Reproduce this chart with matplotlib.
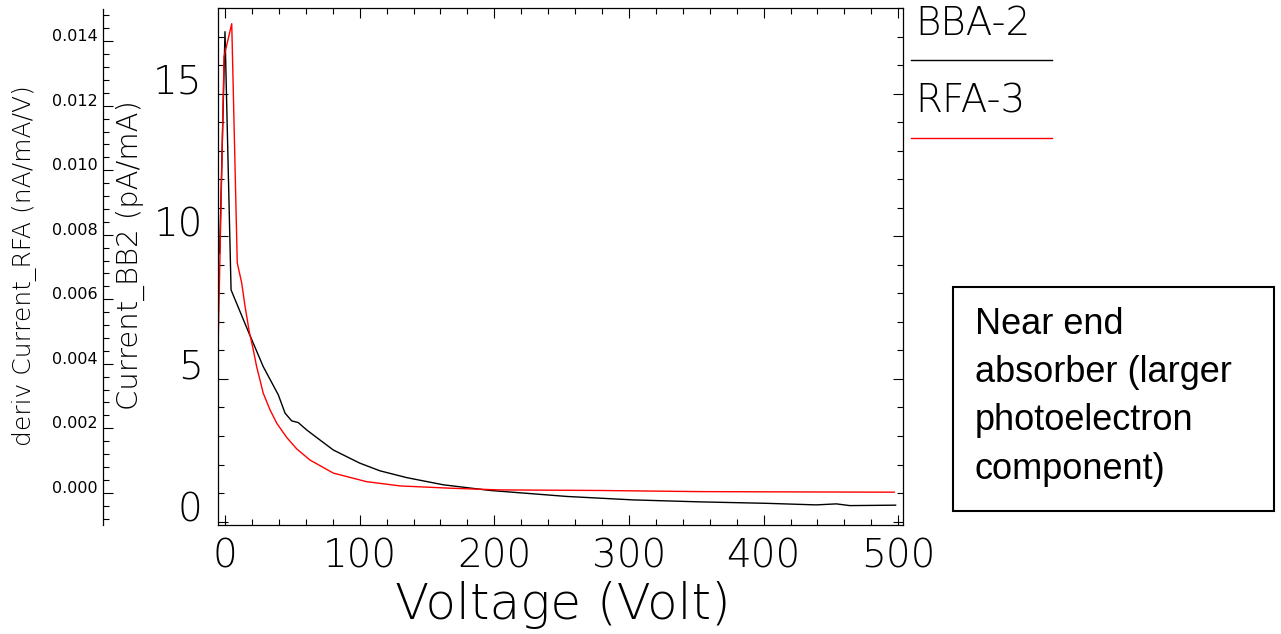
import numpy as np
import matplotlib.pyplot as plt
import matplotlib.font_manager as fm
from matplotlib.lines import Line2D
from matplotlib.patches import Rectangle
from matplotlib.ticker import MultipleLocator, FormatStrFormatter

# values
bb_v = [-4, 0, 4.5, 17.3, 28.4, 39.6, 44.6, 49.5, 54.4, 60.7, 70.5, 80.4, 100, 115,
        135, 162, 197, 254, 303, 353, 402, 439, 454, 464, 498]
bb_i = [9.4, 17.17, 8.12, 6.66, 5.43, 4.44, 3.8, 3.53, 3.47, 3.21, 2.86, 2.51, 2.05, 1.78,
        1.54, 1.29, 1.09, 0.88, 0.76, 0.69, 0.64, 0.585, 0.62, 0.56, 0.575]
rd_v = [-5, -0.7, 5, 9.1, 12.4, 14.9, 18, 21, 23.5, 28.4, 33.4, 38.4, 45.8, 53.2, 63,
        80.4, 105, 130, 167, 204, 278, 353, 420, 497]
rd_i = [6.4, 16.3, 17.45, 9.07, 8.36, 7.54, 6.66, 6.02, 5.43, 4.5, 3.92, 3.45, 2.95, 2.55, 2.16,
        1.7, 1.4, 1.25, 1.17, 1.11, 1.09, 1.05, 1.04, 1.03]
legend_names = ['BBA-2', 'RFA-3']
legend_colors = ['black', 'red']
note = 'Near end\nabsorber (larger\nphotoelectron\ncomponent)'

# thin font to look like the IDL vector font
thin, tw = 'Lato', 300
for f in fm.fontManager.ttflist:
    if f.name == 'DejaVu Sans' and isinstance(f.weight, int) and f.weight <= 300:
        thin, tw = 'DejaVu Sans', f.weight
plt.rcParams['font.family'] = [thin, 'DejaVu Sans']
plt.rcParams['font.weight'] = tw

W, H = 1281, 634
fig = plt.figure(figsize=(W / 100, H / 100), dpi=100)


def fx(x):
    return x / W


def fy(y):
    return 1 - y / H


ax = fig.add_axes([fx(218), fy(525), fx(903) - fx(218), fy(8) - fy(525)])
ax.plot(bb_v, bb_i, color='black', lw=1.0)
ax.plot(rd_v, rd_i, color='red', lw=1.0)
ax.set_xlim(-5.2, 503.5)
ax.set_ylim(-0.12, 18.0)
ax.xaxis.set_major_locator(MultipleLocator(100))
ax.xaxis.set_minor_locator(MultipleLocator(20))
ax.yaxis.set_major_locator(MultipleLocator(5))
ax.yaxis.set_minor_locator(MultipleLocator(1))
ax.tick_params(which='both', direction='in', top=True, right=True, width=0.8)
ax.tick_params(which='major', length=7.5)
ax.tick_params(which='minor', length=4.5)
ax.tick_params(axis='x', pad=9, labelsize=28)
ax.tick_params(axis='y', pad=11, labelsize=28)
for s in ax.spines.values():
    s.set_linewidth(0.9)
plt.setp(ax.get_yticklabels(), va='baseline')

# second left axis
ax2 = fig.add_axes([fx(103.3), fy(525), fx(1), fy(9) - fy(525)])
ax2.patch.set_visible(False)
for k in ['right', 'top', 'bottom']:
    ax2.spines[k].set_visible(False)
ax2.spines['left'].set_linewidth(0.9)
ax2.set_xticks([])
ax2.set_ylim(-0.001, 0.015)
ax2.yaxis.set_major_locator(MultipleLocator(0.002))
ax2.yaxis.set_minor_locator(MultipleLocator(0.0004))
ax2.yaxis.set_major_formatter(FormatStrFormatter('%.3f'))
ax2.tick_params(which='both', direction='in', width=0.8, pad=4)
ax2.tick_params(which='major', length=7.5)
ax2.tick_params(which='minor', length=4.5)
for lab in ax2.get_yticklabels():
    lab.set_fontsize(11.5)
    lab.set_family('DejaVu Sans')
    lab.set_fontweight('normal')
    lab.set_va('baseline')

fig.text(fx(25), fy(266), 'deriv Current_RFA (nA/mA/V)', rotation=90,
         ha='center', va='center', fontsize=18)
fig.text(fx(130), fy(255), 'Current_BB2 (pA/mA)', rotation=90,
         ha='center', va='center', fontsize=21)
fig.text(fx(563), fy(605), 'Voltage (Volt)', ha='center', va='center', fontsize=36)

# legend
for i, (name, c) in enumerate(zip(legend_names, legend_colors)):
    fig.text(fx(915), fy(35 + 77.5 * i), name, va='baseline', fontsize=28)
    yl = fy(60 + 77.5 * i)
    fig.add_artist(Line2D([fx(911), fx(1052)], [yl, yl], color=c, lw=1.0))

# note box
fig.add_artist(Rectangle((fx(953.3), fy(511)), fx(1274.3) - fx(953.3), fy(287.3) - fy(511),
                         fill=False, lw=1.5, ec='black', transform=fig.transFigure))
fig.text(fx(975), fy(307), note, va='top', ha='left', fontsize=26,
         family='Liberation Sans', fontweight='normal', linespacing=1.49)

fig.savefig('out.png', dpi=100)
